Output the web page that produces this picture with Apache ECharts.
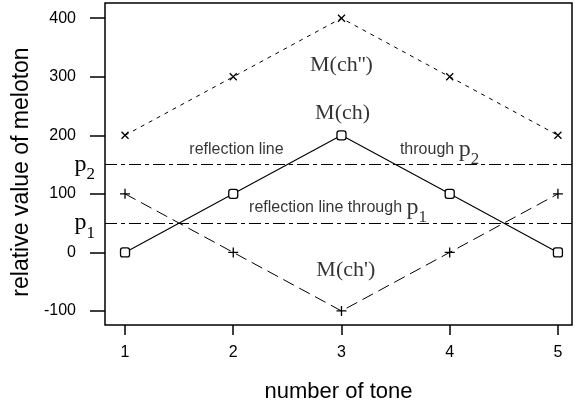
<!DOCTYPE html>
<html><head><meta charset="utf-8">
<script src="https://cdn.jsdelivr.net/npm/echarts@6/dist/echarts.min.js"></script>
<style>html,body{margin:0;padding:0;background:#fff}#c{width:576px;height:401px}</style>
</head><body><div id="c"></div>
<script>
// ---- data ----
const tones = [1, 2, 3, 4, 5];
const mCh = [0, 100, 200, 100, 0];            // M(ch)
const mChDouble = [200, 300, 400, 300, 200];  // M(ch'')
const mChPrime = [100, 0, -100, 0, 100];      // M(ch')
const reflectionP1 = 50;
const reflectionP2 = 150;
const xTickValues = [1, 2, 3, 4, 5];
const yTickValues = [-100, 0, 100, 200, 300, 400];
const annotationTexts = ["M(ch'')", 'M(ch)', "M(ch')", 'reflection line', 'through', 'reflection line through'];
const annotationX = [3.0, 3.01, 3.04, 2.03, 3.54, 2.146];
const annotationY = [320, 237, -31, 175, 175, 76];

const SANS = 'Liberation Sans, Arial, sans-serif';
const SERIF = 'Liberation Serif, Times New Roman, serif';

const rich = {
  t: {fontFamily: SANS, fontSize: 16, color: '#000', lineHeight: 30},
  p: {fontFamily: SERIF, fontSize: 24, color: '#000', lineHeight: 30},
  s: {fontFamily: SERIF, fontSize: 17, color: '#000', lineHeight: 14, padding: [20, 0, 0, 0]},
  m: {fontFamily: SERIF, fontSize: 22, color: '#000', lineHeight: 26}
};

function pts(ys) { return tones.map((x, i) => [x, ys[i]]); }

const annData = annotationTexts.map((txt, i) => {
  let fmt, align = 'center';
  if (i <= 2) fmt = '{m|' + txt + '}';
  else if (i === 3) fmt = '{t|' + txt + '}';
  else if (i === 4) { fmt = '{t|' + txt + ' }{p|p}{s|2}'; align = 'left'; }
  else { fmt = '{t|' + txt + ' }{p|p}{s|1}'; align = 'left'; }
  return {value: [annotationX[i], annotationY[i]], label: {formatter: fmt, align: align}};
});

const chart = echarts.init(document.getElementById('c'), null, {renderer: 'canvas'});
const crossPath = 'path://M0,0L10,10M10,0L0,10';
const plusPath = 'path://M5,0L5,10M0,5L10,5';

chart.setOption({
  animation: false,
  backgroundColor: '#fff',
  grid: {left: 105, right: 4, top: 3, bottom: 76, containLabel: false, outerBoundsMode: 'none',
    show: true, borderColor: '#000', borderWidth: 1.5, backgroundColor: 'transparent'},
  xAxis: {
    type: 'value', min: 0.815, max: 5.13,
    axisLine: {show: false, onZero: false}, splitLine: {show: false},
    axisTick: {show: true, inside: false, length: 10, lineStyle: {color: '#000', width: 1.5}, customValues: xTickValues},
    axisLabel: {customValues: xTickValues, fontFamily: SANS, fontSize: 16, color: '#000', margin: 20},
    name: 'number of tone', nameLocation: 'middle', nameGap: 56,
    nameTextStyle: {fontFamily: SANS, fontSize: 22, color: '#000'}
  },
  yAxis: {
    type: 'value', min: -124, max: 426,
    axisLine: {show: false, onZero: false}, splitLine: {show: false},
    axisTick: {show: true, inside: false, length: 15, lineStyle: {color: '#000', width: 1.5}, customValues: yTickValues},
    axisLabel: {customValues: yTickValues, fontFamily: SANS, fontSize: 16, color: '#000', margin: 29},
    name: 'relative value of meloton', nameLocation: 'middle', nameGap: 68, nameRotate: 90,
    nameTextStyle: {fontFamily: SANS, fontSize: 23, color: '#000', padding: [0, 16, 0, 0]}
  },
  series: [
    {
      type: 'line', name: "M(ch'')", data: pts(mChDouble),
      symbol: crossPath, symbolSize: 7, symbolKeepAspect: true,
      itemStyle: {color: 'rgba(0,0,0,0)', borderColor: '#000', borderWidth: 1.3},
      lineStyle: {color: '#000', width: 1, type: [4, 5]}, z: 3
    },
    {
      type: 'line', name: "M(ch')", data: pts(mChPrime),
      symbol: plusPath, symbolSize: 10, symbolKeepAspect: true,
      itemStyle: {color: 'rgba(0,0,0,0)', borderColor: '#000', borderWidth: 1.3},
      lineStyle: {color: '#000', width: 1, type: [12, 6]}, z: 3
    },
    {
      type: 'line', name: 'M(ch)', data: pts(mCh),
      symbol: 'roundRect', symbolSize: 9,
      itemStyle: {color: '#fff', borderColor: '#000', borderWidth: 1.3},
      lineStyle: {color: '#000', width: 1.1, type: 'solid'}, z: 4,
      markLine: {
        silent: true, symbol: ['none', 'none'], animation: false,
        lineStyle: {color: '#000', width: 1, type: [12, 4, 4, 4]},
        label: {show: true, position: 'start', distance: 10, rich: rich},
        data: [
          {yAxis: reflectionP2, label: {formatter: '{p|p}{s|2}'}},
          {yAxis: reflectionP1, label: {formatter: '{p|p}{s|1}'}}
        ]
      }
    },
    {
      type: 'scatter', name: 'annotations', data: annData,
      symbolSize: 0, silent: true, z: 5,
      label: {show: true, position: 'inside', rich: rich, verticalAlign: 'middle'}
    }
  ]
});
</script>
</body></html>
